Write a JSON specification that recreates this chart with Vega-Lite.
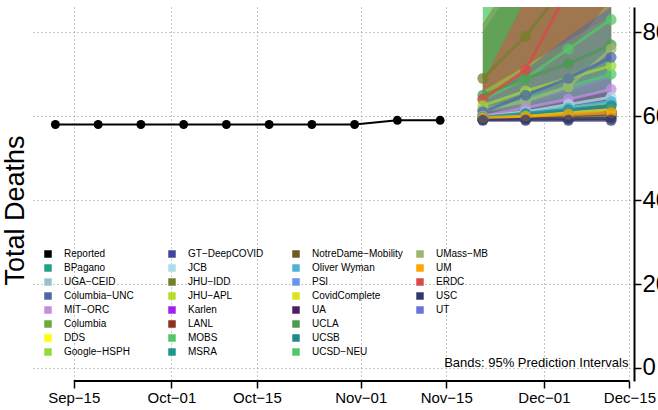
{
  "$schema": "https://vega.github.io/schema/vega-lite/v6.json",
  "width": 601,
  "height": 374,
  "autosize": "none",
  "padding": {"left": 33, "top": 7, "right": 24, "bottom": 29},
  "config": {
    "view": {"stroke": null},
    "font": "Liberation Sans"
  },
  "datasets": {
    "axisline": [{"start": "2020-09-15", "end": "2020-12-15"}],
    "note": [{"note": "Bands: 95% Prediction Intervals", "date": "2020-12-15"}],
    "reported": [
      {"model": "Reported", "date": "2020-09-12", "value": 58},
      {"model": "Reported", "date": "2020-09-19", "value": 58},
      {"model": "Reported", "date": "2020-09-26", "value": 58},
      {"model": "Reported", "date": "2020-10-03", "value": 58},
      {"model": "Reported", "date": "2020-10-10", "value": 58},
      {"model": "Reported", "date": "2020-10-17", "value": 58},
      {"model": "Reported", "date": "2020-10-24", "value": 58},
      {"model": "Reported", "date": "2020-10-31", "value": 58},
      {"model": "Reported", "date": "2020-11-07", "value": 59},
      {"model": "Reported", "date": "2020-11-14", "value": 59}
    ],
    "forecast": [
      {"model": "UCSD−NEU", "date": "2020-11-21", "value": 61.5, "lower": 59, "upper": 92},
      {"model": "UCSD−NEU", "date": "2020-11-28", "value": 64, "lower": 60, "upper": 108},
      {"model": "UCSD−NEU", "date": "2020-12-05", "value": 67, "lower": 61, "upper": 124},
      {"model": "UCSD−NEU", "date": "2020-12-12", "value": 70, "lower": 62, "upper": 140},
      {"model": "MOBS", "date": "2020-11-21", "value": 64, "lower": 60, "upper": 88},
      {"model": "MOBS", "date": "2020-11-28", "value": 69, "lower": 61, "upper": 100},
      {"model": "MOBS", "date": "2020-12-05", "value": 76, "lower": 63, "upper": 115},
      {"model": "MOBS", "date": "2020-12-12", "value": 83, "lower": 65, "upper": 130},
      {"model": "JHU−IDD", "date": "2020-11-21", "value": 69, "lower": 62, "upper": 82},
      {"model": "JHU−IDD", "date": "2020-11-28", "value": 79, "lower": 66, "upper": 98},
      {"model": "JHU−IDD", "date": "2020-12-05", "value": 92, "lower": 70, "upper": 118},
      {"model": "JHU−IDD", "date": "2020-12-12", "value": 105, "lower": 74, "upper": 140},
      {"model": "UCLA", "date": "2020-11-21", "value": 65, "lower": 60, "upper": 80},
      {"model": "UCLA", "date": "2020-11-28", "value": 69, "lower": 62, "upper": 95},
      {"model": "UCLA", "date": "2020-12-05", "value": 72.5, "lower": 64, "upper": 110},
      {"model": "UCLA", "date": "2020-12-12", "value": 77, "lower": 66, "upper": 126},
      {"model": "ERDC", "date": "2020-11-21", "value": 64, "lower": 62, "upper": 68},
      {"model": "ERDC", "date": "2020-11-28", "value": 71, "lower": 65, "upper": 88},
      {"model": "ERDC", "date": "2020-12-05", "value": 90, "lower": 70, "upper": 118},
      {"model": "ERDC", "date": "2020-12-12", "value": 108, "lower": 78, "upper": 150},
      {"model": "Google−HSPH", "date": "2020-11-21", "value": 62.5, "lower": 60, "upper": 66},
      {"model": "Google−HSPH", "date": "2020-11-28", "value": 66, "lower": 61, "upper": 72},
      {"model": "Google−HSPH", "date": "2020-12-05", "value": 69, "lower": 62, "upper": 78},
      {"model": "Google−HSPH", "date": "2020-12-12", "value": 72, "lower": 63, "upper": 84},
      {"model": "UMass−MB", "date": "2020-11-21", "value": 61.4, "lower": 59, "upper": 64},
      {"model": "UMass−MB", "date": "2020-11-28", "value": 63.5, "lower": 60, "upper": 69},
      {"model": "UMass−MB", "date": "2020-12-05", "value": 67, "lower": 61, "upper": 75},
      {"model": "UMass−MB", "date": "2020-12-12", "value": 76, "lower": 62, "upper": 88},
      {"model": "Columbia−UNC", "date": "2020-11-21", "value": 61, "lower": 59.5, "upper": 64},
      {"model": "Columbia−UNC", "date": "2020-11-28", "value": 65, "lower": 60, "upper": 71},
      {"model": "Columbia−UNC", "date": "2020-12-05", "value": 69, "lower": 61, "upper": 79},
      {"model": "Columbia−UNC", "date": "2020-12-12", "value": 74, "lower": 62, "upper": 86},
      {"model": "PSI", "date": "2020-11-21", "value": 60, "lower": 59, "upper": 62},
      {"model": "PSI", "date": "2020-11-28", "value": 61, "lower": 59, "upper": 64.5},
      {"model": "PSI", "date": "2020-12-05", "value": 62, "lower": 59, "upper": 67.5},
      {"model": "PSI", "date": "2020-12-12", "value": 63, "lower": 59, "upper": 70.5},
      {"model": "GT−DeepCOVID", "date": "2020-11-21", "value": 59.5, "lower": 59, "upper": 61},
      {"model": "GT−DeepCOVID", "date": "2020-11-28", "value": 60, "lower": 59, "upper": 63.5},
      {"model": "GT−DeepCOVID", "date": "2020-12-05", "value": 60.5, "lower": 59, "upper": 66},
      {"model": "GT−DeepCOVID", "date": "2020-12-12", "value": 61, "lower": 59, "upper": 69},
      {"model": "JHU−APL", "date": "2020-11-21", "value": 60, "lower": 59, "upper": 62},
      {"model": "JHU−APL", "date": "2020-11-28", "value": 61, "lower": 59, "upper": 64},
      {"model": "JHU−APL", "date": "2020-12-05", "value": 62, "lower": 59, "upper": 67},
      {"model": "JHU−APL", "date": "2020-12-12", "value": 63, "lower": 59, "upper": 70},
      {"model": "BPagano", "date": "2020-11-21", "value": 59.5, "lower": 59, "upper": 60},
      {"model": "BPagano", "date": "2020-11-28", "value": 60.5, "lower": 59, "upper": 62},
      {"model": "BPagano", "date": "2020-12-05", "value": 61.5, "lower": 59, "upper": 64},
      {"model": "BPagano", "date": "2020-12-12", "value": 62.6, "lower": 59, "upper": 66},
      {"model": "Columbia", "date": "2020-11-21", "value": 59.5, "lower": 59, "upper": 61},
      {"model": "Columbia", "date": "2020-11-28", "value": 60, "lower": 59, "upper": 63},
      {"model": "Columbia", "date": "2020-12-05", "value": 60.5, "lower": 59, "upper": 65},
      {"model": "Columbia", "date": "2020-12-12", "value": 61, "lower": 59, "upper": 67},
      {"model": "LANL", "date": "2020-11-21", "value": 59.5, "lower": 59, "upper": 61},
      {"model": "LANL", "date": "2020-11-28", "value": 60, "lower": 59, "upper": 62},
      {"model": "LANL", "date": "2020-12-05", "value": 60.5, "lower": 59, "upper": 64},
      {"model": "LANL", "date": "2020-12-12", "value": 61, "lower": 59, "upper": 66},
      {"model": "UT", "date": "2020-11-21", "value": 60, "lower": 59.5, "upper": 61.5},
      {"model": "UT", "date": "2020-11-28", "value": 60, "lower": 59.5, "upper": 64},
      {"model": "UT", "date": "2020-12-05", "value": 60, "lower": 59.5, "upper": 67},
      {"model": "UT", "date": "2020-12-12", "value": 60, "lower": 59.5, "upper": 70},
      {"model": "UGA−CEID", "date": "2020-11-21", "value": 59.3, "lower": null, "upper": null},
      {"model": "UGA−CEID", "date": "2020-11-28", "value": 59.6, "lower": null, "upper": null},
      {"model": "UGA−CEID", "date": "2020-12-05", "value": 60, "lower": null, "upper": null},
      {"model": "UGA−CEID", "date": "2020-12-12", "value": 60.3, "lower": null, "upper": null},
      {"model": "MIT−ORC", "date": "2020-11-21", "value": 60, "lower": null, "upper": null},
      {"model": "MIT−ORC", "date": "2020-11-28", "value": 62, "lower": null, "upper": null},
      {"model": "MIT−ORC", "date": "2020-12-05", "value": 64, "lower": null, "upper": null},
      {"model": "MIT−ORC", "date": "2020-12-12", "value": 66.4, "lower": null, "upper": null},
      {"model": "DDS", "date": "2020-11-21", "value": 59.2, "lower": null, "upper": null},
      {"model": "DDS", "date": "2020-11-28", "value": 59.4, "lower": null, "upper": null},
      {"model": "DDS", "date": "2020-12-05", "value": 59.6, "lower": null, "upper": null},
      {"model": "DDS", "date": "2020-12-12", "value": 59.8, "lower": null, "upper": null},
      {"model": "JCB", "date": "2020-11-21", "value": 59.8, "lower": null, "upper": null},
      {"model": "JCB", "date": "2020-11-28", "value": 61, "lower": null, "upper": null},
      {"model": "JCB", "date": "2020-12-05", "value": 62.8, "lower": null, "upper": null},
      {"model": "JCB", "date": "2020-12-12", "value": 64.5, "lower": null, "upper": null},
      {"model": "Karlen", "date": "2020-11-21", "value": 59.4, "lower": null, "upper": null},
      {"model": "Karlen", "date": "2020-11-28", "value": 59.8, "lower": null, "upper": null},
      {"model": "Karlen", "date": "2020-12-05", "value": 60.2, "lower": null, "upper": null},
      {"model": "Karlen", "date": "2020-12-12", "value": 60.6, "lower": null, "upper": null},
      {"model": "MSRA", "date": "2020-11-21", "value": 59.3, "lower": null, "upper": null},
      {"model": "MSRA", "date": "2020-11-28", "value": 59.5, "lower": null, "upper": null},
      {"model": "MSRA", "date": "2020-12-05", "value": 59.7, "lower": null, "upper": null},
      {"model": "MSRA", "date": "2020-12-12", "value": 59.9, "lower": null, "upper": null},
      {"model": "NotreDame−Mobility", "date": "2020-11-21", "value": 59.5, "lower": null, "upper": null},
      {"model": "NotreDame−Mobility", "date": "2020-11-28", "value": 59.8, "lower": null, "upper": null},
      {"model": "NotreDame−Mobility", "date": "2020-12-05", "value": 60.1, "lower": null, "upper": null},
      {"model": "NotreDame−Mobility", "date": "2020-12-12", "value": 60.4, "lower": null, "upper": null},
      {"model": "Oliver Wyman", "date": "2020-11-21", "value": 59.6, "lower": null, "upper": null},
      {"model": "Oliver Wyman", "date": "2020-11-28", "value": 60.8, "lower": null, "upper": null},
      {"model": "Oliver Wyman", "date": "2020-12-05", "value": 62, "lower": null, "upper": null},
      {"model": "Oliver Wyman", "date": "2020-12-12", "value": 63.5, "lower": null, "upper": null},
      {"model": "CovidComplete", "date": "2020-11-21", "value": 59.5, "lower": null, "upper": null},
      {"model": "CovidComplete", "date": "2020-11-28", "value": 60, "lower": null, "upper": null},
      {"model": "CovidComplete", "date": "2020-12-05", "value": 60.8, "lower": null, "upper": null},
      {"model": "CovidComplete", "date": "2020-12-12", "value": 61.5, "lower": null, "upper": null},
      {"model": "UA", "date": "2020-11-21", "value": 59.2, "lower": null, "upper": null},
      {"model": "UA", "date": "2020-11-28", "value": 59.3, "lower": null, "upper": null},
      {"model": "UA", "date": "2020-12-05", "value": 59.4, "lower": null, "upper": null},
      {"model": "UA", "date": "2020-12-12", "value": 59.5, "lower": null, "upper": null},
      {"model": "UCSB", "date": "2020-11-21", "value": 59.8, "lower": null, "upper": null},
      {"model": "UCSB", "date": "2020-11-28", "value": 60.6, "lower": null, "upper": null},
      {"model": "UCSB", "date": "2020-12-05", "value": 61.5, "lower": null, "upper": null},
      {"model": "UCSB", "date": "2020-12-12", "value": 62.5, "lower": null, "upper": null},
      {"model": "UM", "date": "2020-11-21", "value": 59.6, "lower": null, "upper": null},
      {"model": "UM", "date": "2020-11-28", "value": 60, "lower": null, "upper": null},
      {"model": "UM", "date": "2020-12-05", "value": 60.4, "lower": null, "upper": null},
      {"model": "UM", "date": "2020-12-12", "value": 60.8, "lower": null, "upper": null},
      {"model": "USC", "date": "2020-11-21", "value": 59, "lower": null, "upper": null},
      {"model": "USC", "date": "2020-11-28", "value": 59, "lower": null, "upper": null},
      {"model": "USC", "date": "2020-12-05", "value": 59, "lower": null, "upper": null},
      {"model": "USC", "date": "2020-12-12", "value": 59, "lower": null, "upper": null}
    ]
  },
  "layer": [
    {
      "data": {"name": "forecast"},
      "mark": {"type": "area", "opacity": 0.5, "clip": true},
      "encoding": {
        "x": {
          "field": "date",
          "type": "temporal",
          "scale": {"type": "utc", "domain": [{"year": 2020, "month": 9, "date": 8, "hours": 8, "utc": true}, {"year": 2020, "month": 12, "date": 15, "hours": 18, "utc": true}]},
          "axis": {
            "title": null,
            "values": [
              {"year": 2020, "month": 9, "date": 15, "utc": true},
              {"year": 2020, "month": 10, "date": 1, "utc": true},
              {"year": 2020, "month": 10, "date": 15, "utc": true},
              {"year": 2020, "month": 11, "date": 1, "utc": true},
              {"year": 2020, "month": 11, "date": 15, "utc": true},
              {"year": 2020, "month": 12, "date": 1, "utc": true},
              {"year": 2020, "month": 12, "date": 15, "utc": true}
            ],
            "format": "%b−%d",
            "domain": false,
            "grid": true,
            "gridDash": [1, 3],
            "gridColor": "#8c8c8c",
            "tickColor": "black",
            "labelColor": "black",
            "tickSize": 7,
            "tickWidth": 1.5,
            "labelFontSize": 15,
            "labelPadding": 2
          }
        },
        "y": {
          "field": "lower",
          "type": "quantitative",
          "scale": {"domain": [-3.1, 86], "nice": false, "zero": false},
          "axis": {
            "orient": "right",
            "values": [0, 20, 40, 60, 80],
            "domain": true,
            "domainColor": "black",
            "domainWidth": 2,
            "grid": true,
            "gridDash": [1, 3],
            "gridColor": "#8c8c8c",
            "tickColor": "black",
            "labelColor": "black",
            "tickSize": 7,
            "tickWidth": 1.5,
            "labelFontSize": 24,
            "labelPadding": 1,
            "title": "Total Deaths",
            "titleFontSize": 27,
            "titleFontWeight": "normal",
            "titleColor": "black",
            "titleAngle": -90,
            "titleAlign": "center",
            "titleX": -605,
            "titleY": 203
          }
        },
        "y2": {"field": "upper"},
        "color": {
          "field": "model",
          "type": "nominal",
          "scale": {
            "domain": ["Reported", "BPagano", "UGA−CEID", "Columbia−UNC", "MIT−ORC", "Columbia", "DDS", "Google−HSPH", "GT−DeepCOVID", "JCB", "JHU−IDD", "JHU−APL", "Karlen", "LANL", "MOBS", "MSRA", "NotreDame−Mobility", "Oliver Wyman", "PSI", "CovidComplete", "UA", "UCLA", "UCSB", "UCSD−NEU", "UMass−MB", "UM", "ERDC", "USC", "UT", "_a", "_b", "_c"],
            "range": ["#000000", "#23a184", "#9bc1cf", "#4f67a8", "#c18de0", "#6aad33", "#ffff00", "#98d93d", "#40449b", "#addcea", "#767f2c", "#b8dd28", "#a020f0", "#8b3222", "#55c667", "#1f968b", "#6b5a21", "#4ab3d9", "#6495ed", "#dde319", "#4f1f68", "#4a9a50", "#1f8a88", "#52c569", "#9fb56d", "#ffa500", "#d94a47", "#313a6f", "#6a72de", "rgba(0,0,0,0)", "rgba(0,0,0,0)", "rgba(0,0,0,0)"]
          },
          "legend": {
            "title": null,
            "orient": "none",
            "legendX": 10,
            "legendY": 242,
            "direction": "vertical",
            "columns": 4,
            "symbolLimit": 50,
            "gridAlign": "all",
            "columnPadding": 12,
            "rowPadding": 4,
            "padding": 0,
            "symbolType": "square",
            "symbolSize": 56,
            "symbolOpacity": 1,
            "symbolStrokeWidth": 0,
            "labelFontSize": 10,
            "labelOffset": 11,
            "labelColor": "black",
            "labelLimit": 200,
            "labelExpr": "indexof(datum.label, '_') === 0 ? '' : datum.label",
            "encode": {
              "symbols": {
                "update": {
                  "fill": {"scale": "color", "field": "value"},
                  "stroke": {"value": "transparent"},
                  "opacity": {"value": 1},
                  "fillOpacity": {"value": 1},
                  "shape": {"value": "square"},
                  "size": {"value": 56}
                }
              }
            }
          }
        }
      }
    },
    {
      "data": {"name": "forecast"},
      "mark": {"type": "line", "strokeWidth": 3, "opacity": 0.75, "clip": true},
      "encoding": {
        "x": {"field": "date", "type": "temporal"},
        "y": {"field": "value", "type": "quantitative"},
        "color": {"field": "model", "type": "nominal"}
      }
    },
    {
      "data": {"name": "forecast"},
      "mark": {"type": "point", "filled": true, "size": 120, "opacity": 0.75, "clip": true},
      "encoding": {
        "x": {"field": "date", "type": "temporal"},
        "y": {"field": "value", "type": "quantitative"},
        "color": {"field": "model", "type": "nominal"}
      }
    },
    {
      "data": {"name": "reported"},
      "mark": {"type": "line", "strokeWidth": 2, "point": {"filled": true, "size": 80, "opacity": 1}},
      "encoding": {
        "x": {"field": "date", "type": "temporal"},
        "y": {"field": "value", "type": "quantitative"},
        "color": {"field": "model", "type": "nominal"}
      }
    },
    {
      "data": {"name": "axisline"},
      "mark": {"type": "rule", "color": "black", "strokeWidth": 2},
      "encoding": {
        "x": {"field": "start", "type": "temporal"},
        "x2": {"field": "end"},
        "y": {"datum": -3.1, "type": "quantitative"}
      }
    },
    {
      "data": {"name": "note"},
      "mark": {"type": "text", "align": "right", "baseline": "middle", "fontSize": 13, "dx": -1, "color": "black"},
      "encoding": {
        "x": {"field": "date", "type": "temporal"},
        "y": {"datum": 1.3, "type": "quantitative"},
        "text": {"field": "note"}
      }
    }
  ]
}
